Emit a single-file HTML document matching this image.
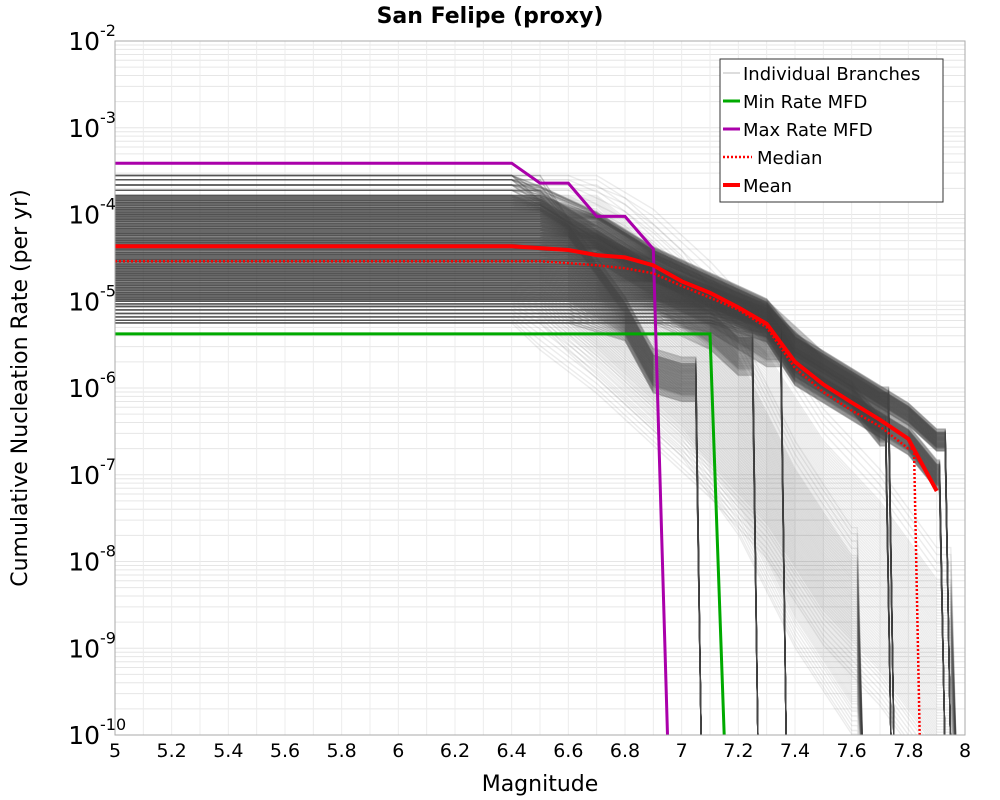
<!DOCTYPE html>
<html><head><meta charset="utf-8"><style>
body{margin:0;background:#fff;font-family:"DejaVu Sans","Liberation Sans",sans-serif}
svg{display:block}
</style></head><body>
<svg id="chart" width="1000" height="800" viewBox="0 0 1000 800" xmlns="http://www.w3.org/2000/svg">
<defs><clipPath id="plotclip"><rect x="115" y="41" width="850" height="694"/></clipPath></defs>
<text x="490" y="23" text-anchor="middle" font-size="22" font-weight="bold">San Felipe (proxy)</text>
<g id="grid"></g>
<g id="branches" clip-path="url(#plotclip)"></g>
<g id="main" clip-path="url(#plotclip)"></g>
<rect x="115" y="41" width="850" height="694" fill="none" stroke="#aaa" stroke-width="1"/>
<g id="axes"></g>
<text x="540" y="791" text-anchor="middle" font-size="22">Magnitude</text>
<text transform="translate(27,388) rotate(-90)" text-anchor="middle" font-size="22">Cumulative Nucleation Rate (per yr)</text>
<g>
<rect x="720" y="59" width="223" height="143" fill="#fff" stroke="#333" stroke-width="1"/>
<line x1="723" y1="73" x2="740" y2="73" stroke="#bbb" stroke-width="1"/>
<text x="743" y="80" font-size="18">Individual Branches</text>
<line x1="723" y1="101" x2="740" y2="101" stroke="#00aa00" stroke-width="3"/>
<text x="743" y="108" font-size="18">Min Rate MFD</text>
<line x1="723" y1="129" x2="740" y2="129" stroke="#aa00aa" stroke-width="3"/>
<text x="743" y="136" font-size="18">Max Rate MFD</text>
<line x1="723" y1="157" x2="752" y2="157" stroke="#f00" stroke-width="2.5" stroke-dasharray="2,2"/>
<text x="757" y="164" font-size="18">Median</text>
<line x1="723" y1="185" x2="740" y2="185" stroke="#f00" stroke-width="4"/>
<text x="743" y="192" font-size="18">Mean</text>
</g>
</svg>
<script>
const xTicks=[5,5.2,5.4,5.6,5.8,6,6.2,6.4,6.6,6.8,7,7.2,7.4,7.6,7.8,8];
const yDecades=[-2,-3,-4,-5,-6,-7,-8,-9,-10];
// branch plateau levels (log10 rate)
const plateaus=[-3.55,-3.6,-3.66,-3.72,-3.78,-3.8,-3.82,-3.84,-3.86,-3.88,-3.9,-3.92,-3.94,-3.96,-3.98,-4.0,-4.02,-4.04,-4.06,-4.08,-4.1,-4.12,-4.14,-4.16,-4.18,-4.2,-4.22,-4.24,-4.26,-4.28,-4.3,-4.32,-4.34,-4.36,-4.38,-4.4,-4.42,-4.44,-4.46,-4.48,-4.5,-4.52,-4.54,-4.56,-4.58,-4.6,-4.62,-4.64,-4.66,-4.68,-4.7,-4.72,-4.74,-4.76,-4.78,-4.8,-4.82,-4.84,-4.86,-4.88,-4.9,-4.92,-4.94,-4.96,-4.98,-5.0,-5.03,-5.06,-5.1,-5.14,-5.18,-5.22,-5.25];
// tail shapes (magnitudes, log10 rates, end magnitude where rate drops to floor)
const tailMags=[
 [6.5,6.7,6.9,7.1,7.3,7.4,7.6,7.8,7.9],
 [6.5,6.7,6.9,7.1,7.3,7.4,7.6,7.8,7.9],
 [6.5,6.7,6.9,7.1,7.3,7.4,7.6,7.7],
 [6.5,6.7,6.9,7.1,7.3,7.5,7.7],
 [6.5,6.7,6.9,7.1,7.2],
 [6.6,6.8,6.9,7.0],
 [6.5,6.7,6.9,7.1,7.3],
 [6.5,6.7,6.9,7.1,7.3,7.5,7.7,7.9],
 [6.6,6.8,7.0,7.2,7.4,7.6]
];
const tailLogs=[
 [-3.8,-4.1,-4.5,-4.8,-5.1,-5.5,-5.9,-6.3,-6.6],
 [-3.9,-4.3,-4.7,-5.0,-5.3,-5.8,-6.2,-6.6,-7.0],
 [-4.0,-4.4,-4.7,-4.95,-5.2,-5.7,-6.1,-6.5],
 [-3.9,-4.2,-4.6,-4.9,-5.2,-5.8,-6.2],
 [-4.1,-4.5,-4.9,-5.3,-5.6],
 [-4.3,-5.2,-5.8,-5.9],
 [-4.0,-4.4,-4.8,-5.1,-5.5],
 [-4.2,-4.7,-5.3,-5.9,-6.6,-7.6,-8.3,-9.2],
 [-4.4,-5.0,-5.6,-6.5,-7.8,-8.8]
];
const tailEnds=[7.93,7.91,7.72,7.73,7.25,7.05,7.35,7.95,7.62];
const tailAlpha=[0.3,0.3,0.25,0.25,0.25,0.3,0.25,0.1,0.1];
const tailSpread=[0.15,0.2,0.2,0.25,0.3,0.3,0.3,1.6,1.4];
const meanM=[5,6.4,6.5,6.6,6.7,6.8,6.9,7.0,7.1,7.2,7.3,7.4,7.5,7.6,7.7,7.8,7.9];
const meanV=[4.3e-5,4.3e-5,4.1e-5,3.9e-5,3.4e-5,3.2e-5,2.6e-5,1.7e-5,1.25e-5,8.5e-6,5.5e-6,2e-6,1.1e-6,6.8e-7,4.3e-7,2.6e-7,6.5e-8];
const medM=[5,6.5,6.6,6.7,6.8,6.9,7.0,7.1,7.2,7.3,7.4,7.5,7.6,7.7,7.8,7.82,7.84];
const medV=[2.9e-5,2.9e-5,2.75e-5,2.6e-5,2.4e-5,2.1e-5,1.5e-5,1.1e-5,8e-6,5e-6,1.7e-6,9e-7,5.5e-7,3.6e-7,2e-7,2e-7,1e-10];
const maxM=[5,6.4,6.5,6.6,6.7,6.8,6.9,6.95];
const maxV=[3.9e-4,3.9e-4,2.3e-4,2.3e-4,9.5e-5,9.5e-5,4e-5,1e-10];
const minM=[5,7.1,7.15];
const minV=[4.2e-6,4.2e-6,1e-10];

const X0=115,X1=965,Y0=41,Y1=735;
const xs=m=>X0+(m-5)/3*(X1-X0);
const ys=l=>Y0+(-2-l)/8*(Y1-Y0);
const NS='http://www.w3.org/2000/svg';
function mk(tag,attrs,parent){const e=document.createElementNS(NS,tag);for(const k in attrs)e.setAttribute(k,attrs[k]);parent.appendChild(e);return e;}
const grid=document.getElementById('grid'),axes=document.getElementById('axes');
for(let d=-10;d<-2;d++){for(let k=1;k<10;k++){const y=ys(d+Math.log10(k));
 const g=mk('line',{x1:X0,x2:X1,y1:y,y2:y,stroke:'#e6e6e6','stroke-width':1},grid);
 
 }}
for(let i=0;i<30;i++){const x=xs(5+i*0.1);
 const g=mk('line',{x1:x,x2:x,y1:Y0,y2:Y1,stroke:'#ececec','stroke-width':1},grid);
 
 }
xTicks.forEach(t=>{const tx=mk('text',{x:xs(t),y:757,'text-anchor':'middle','font-size':19},axes);tx.textContent=String(t);
 
 });
yDecades.forEach(d=>{const y=ys(d);const tx=mk('text',{x:100,y:y+9,'text-anchor':'end','font-size':25},axes);tx.textContent='10';
 
 
 const s=mk('text',{x:100,y:y-5,'font-size':16},axes);s.textContent=String(d);
 
 });
const br=document.getElementById('branches');
tailMags.forEach((tm,ti)=>{plateaus.forEach(p=>{
 let pts=[[5,p],[tm[0]-0.1,p]];
 tm.forEach((m,j)=>{pts.push([m,Math.min(p,tailLogs[ti][j]+(p+4.4)*tailSpread[ti])]);});
 const last=pts[pts.length-1];
 pts.push([tailEnds[ti],last[1]]);
 pts.push([tailEnds[ti]+0.02,-10.3]);
 const pl=mk('polyline',{points:pts.map(q=>xs(q[0]).toFixed(1)+','+ys(q[1]).toFixed(1)).join(' '),fill:'none',stroke:'#444','stroke-opacity':tailAlpha[ti],'stroke-width':1.4},br);
 
 
});});
const main=document.getElementById('main');
function curve(M,V,color,w,dash,name){const a={points:M.map((m,i)=>xs(m).toFixed(1)+','+ys(Math.log10(V[i])).toFixed(1)).join(' '),fill:'none',stroke:color,'stroke-width':w};if(dash)a['stroke-dasharray']=dash;
 const pl=mk('polyline',a,main);
 
 }
curve(minM,minV,'#00aa00',3,null,'min-rate-mfd');
curve(maxM,maxV,'#aa00aa',3,null,'max-rate-mfd');
curve(medM,medV,'#ff0000',2.5,'2,2','median-line');
curve(meanM,meanV,'#ff0000',4,null,'mean-line');
</script>
</body></html>
